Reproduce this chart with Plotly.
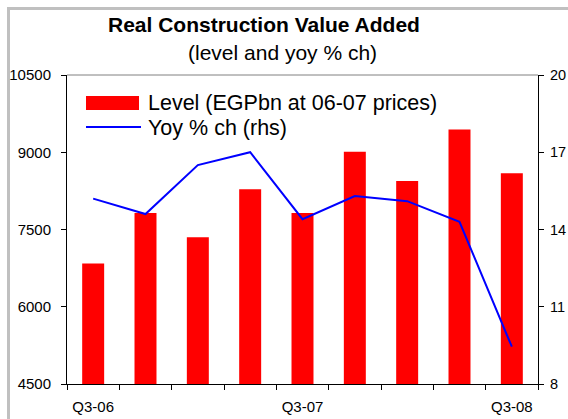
import plotly.graph_objects as go

# Quarterly series
quarters = ["Q3-06", "Q4-06", "Q1-07", "Q2-07", "Q3-07", "Q4-07", "Q1-08", "Q2-08", "Q3-08"]
level_egpbn = [6840, 7820, 7350, 8280, 7820, 9010, 8440, 9440, 8590]
yoy_pct = [15.2, 14.6, 16.5, 17.0, 14.4, 15.3, 15.1, 14.3, 9.45]
shown_labels = ["Q3-06", "", "", "", "Q3-07", "", "", "", "Q3-08"]
level_ticks = [4500, 6000, 7500, 9000, 10500]
yoy_ticks = [8, 11, 14, 17, 20]

FONT = "Liberation Sans, Arial, sans-serif"
W, H = 568, 419
ML, MR, MT, MB = 67, 30, 75, 35
PW, PH = W - ML - MR, H - MT - MB


def px(x):
    return (x - ML) / PW


def py(y):
    return (H - MB - y) / PH


fig = go.Figure()

fig.add_trace(go.Bar(
    x=quarters, y=level_egpbn, name="Level (EGPbn at 06-07 prices)",
    marker=dict(color="#FF0000", line=dict(width=0)), width=0.42,
    showlegend=False,
))
fig.add_trace(go.Scatter(
    x=quarters, y=yoy_pct, name="Yoy % ch (rhs)", yaxis="y2",
    mode="lines", line=dict(color="#0000FF", width=2),
    showlegend=False,
))

shapes = [
    # outer grey frame
    dict(type="rect", xref="paper", yref="paper",
         x0=px(8.5), x1=1.2, y0=-0.3, y1=py(8.5),
         line=dict(color="#C0C0C0", width=3), fillcolor="rgba(0,0,0,0)", layer="below"),
    # top border of the plot area
    dict(type="line", xref="paper", yref="paper", x0=0, x1=1, y0=1, y1=1,
         line=dict(color="#808080", width=1)),
    # legend keys
    dict(type="rect", xref="paper", yref="paper",
         x0=px(86), x1=px(139), y0=py(110), y1=py(96),
         fillcolor="#FF0000", line=dict(width=0)),
    dict(type="line", xref="paper", yref="paper",
         x0=px(86), x1=px(141), y0=py(127), y1=py(127),
         line=dict(color="#0000FF", width=2)),
]

annotations = [
    dict(text="<b>Real Construction Value Added</b>", xref="paper", yref="paper",
         x=px(264), y=py(24), showarrow=False, xanchor="center", yanchor="middle",
         font=dict(family=FONT, size=21, color="black")),
    dict(text="(level and yoy % ch)", xref="paper", yref="paper",
         x=px(282), y=py(53), showarrow=False, xanchor="center", yanchor="middle",
         font=dict(family=FONT, size=21, color="black")),
    dict(text="Level (EGPbn at 06-07 prices)", xref="paper", yref="paper",
         x=px(146), y=py(103), showarrow=False, xanchor="left", yanchor="middle",
         font=dict(family=FONT, size=21.5, color="black")),
    dict(text="Yoy % ch (rhs)", xref="paper", yref="paper",
         x=px(146), y=py(128), showarrow=False, xanchor="left", yanchor="middle",
         font=dict(family=FONT, size=21.5, color="black")),
]

axis_common = dict(
    ticks="outside", ticklen=5, tickcolor="black",
    showline=True, linecolor="black", linewidth=1,
    showgrid=False, zeroline=False, automargin=False,
)

fig.update_layout(
    width=W, height=H,
    margin=dict(l=ML, r=MR, t=MT, b=MB, pad=0),
    paper_bgcolor="white", plot_bgcolor="white",
    font=dict(family=FONT, size=15, color="black"),
    shapes=shapes, annotations=annotations,
    xaxis=dict(
        type="category", categoryorder="array", categoryarray=quarters,
        range=[-0.5, 8.5], tickson="boundaries",
        tickvals=quarters, ticktext=shown_labels, ticklabelstandoff=9,
        tickfont=dict(family=FONT, size=15),
        **axis_common,
    ),
    yaxis=dict(
        range=[4500, 10500], tickvals=level_ticks,
        ticktext=[str(v) for v in level_ticks], ticklabelstandoff=7,
        tickfont=dict(family=FONT, size=15),
        **axis_common,
    ),
    yaxis2=dict(
        range=[8, 20], tickvals=yoy_ticks,
        ticktext=[str(v) for v in yoy_ticks], ticklabelstandoff=3,
        tickfont=dict(family=FONT, size=14.5),
        overlaying="y", side="right",
        **axis_common,
    ),
)

fig.write_html("out.html")
